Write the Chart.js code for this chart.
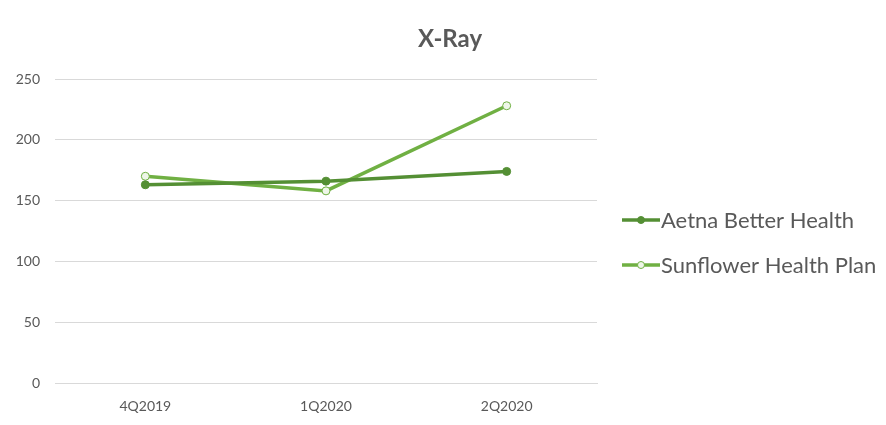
<!DOCTYPE html>
<html><head><meta charset="utf-8">
<script src="https://cdn.jsdelivr.net/npm/chart.js@4"></script>
<style>html,body{margin:0;padding:0;background:#fff}#wrap{width:886px;height:425px;position:relative}</style>
</head><body><div id="wrap"><canvas id="c" width="886" height="425"></canvas></div>
<script>
const categories = ['4Q2019', '1Q2020', '2Q2020'];
const aetna = [163, 166, 174];
const sunflower = [170, 158, 228];
const yTicks = [0, 50, 100, 150, 200, 250];
const seriesNames = ['Aetna Better Health', 'Sunflower Health Plan'];
const chartTitle = 'X-Ray';

const colA = '#548f34', colS = '#70b043';

const legendPlugin = {
  id: 'customLegend',
  afterDraw(chart) {
    const ctx = chart.ctx;
    const items = chart.data.datasets;
    const x0 = 622, ys = [220, 265];
    ctx.save();
    items.forEach((ds, i) => {
      const y = ys[i];
      ctx.strokeStyle = ds.borderColor; ctx.lineWidth = 3.5;
      ctx.beginPath(); ctx.moveTo(x0, y); ctx.lineTo(x0 + 38, y); ctx.stroke();
      ctx.beginPath(); ctx.arc(x0 + 19, y, 3.5, 0, Math.PI * 2);
      ctx.fillStyle = ds.pointBackgroundColor; ctx.fill();
      ctx.lineWidth = 1; ctx.strokeStyle = ds.pointBorderColor; ctx.stroke();
      ctx.fillStyle = '#595959';
      ctx.font = '22px Lato';
      ctx.textBaseline = 'middle'; ctx.textAlign = 'left';
      ctx.fillText(ds.label, x0 + 39, y + 1);
    });
    // title centred on canvas
    ctx.fillStyle = '#595959';
    ctx.font = 'bold 24px Lato';
    ctx.textAlign = 'center'; ctx.textBaseline = 'middle';
    ctx.fillText(chartTitle, 450, 39);
    ctx.restore();
  }
};

new Chart(document.getElementById('c'), {
  type: 'line',
  data: {
    labels: categories,
    datasets: [
      { label: seriesNames[0], data: aetna, borderColor: colA, backgroundColor: colA,
        pointBackgroundColor: colA, pointBorderColor: colA, pointRadius: 4, pointBorderWidth: 1,
        borderWidth: 3.5, tension: 0 },
      { label: seriesNames[1], data: sunflower, borderColor: colS, backgroundColor: colS,
        pointBackgroundColor: '#eef6e8', pointBorderColor: colS, pointRadius: 4, pointBorderWidth: 1,
        borderWidth: 3.5, tension: 0 }
    ]
  },
  options: {
    responsive: false, animation: false,
    layout: { padding: { left: 0, right: 289, top: 79, bottom: 0 } },
    plugins: {
      legend: { display: false },
      tooltip: { enabled: false },
      title: { display: false }
    },
    scales: {
      x: {
        offset: true,
        grid: { display: false, drawTicks: false },
        border: { display: true, color: '#d9d9d9', width: 1 },
        ticks: { color: '#595959', font: { family: 'Lato', size: 14 }, padding: 15 },
        afterFit(s) { s.height = 42; }
      },
      y: {
        min: 0, max: 250,
        afterBuildTicks(s) { s.ticks = yTicks.map(v => ({ value: v })); },
        grid: { color: '#d9d9d9', drawTicks: false },
        border: { display: false },
        ticks: { color: '#595959', font: { family: 'Lato', size: 14 }, padding: 15 },
        afterFit(s) { s.width = 55; }
      }
    }
  },
  plugins: [legendPlugin]
});
</script></body></html>
